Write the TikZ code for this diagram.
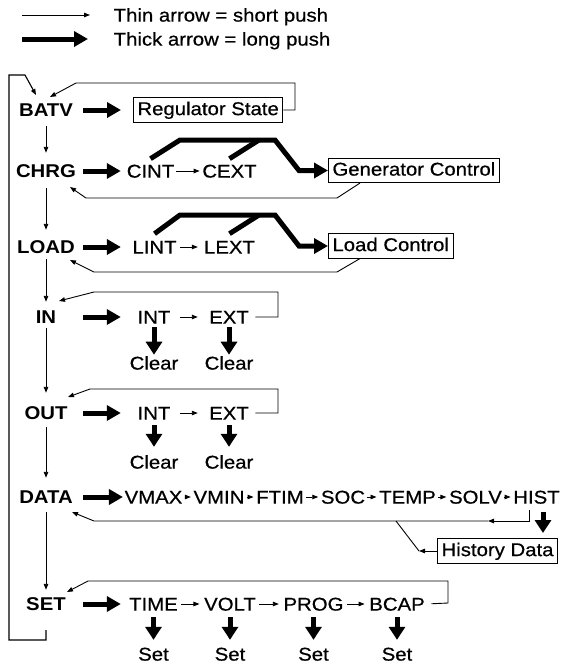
\documentclass[tikz,border=0pt]{standalone}
\usepackage{fontspec}
\setmainfont[FakeStretch=1.1, UprightFeatures={FakeBold=0.6}]{Liberation Sans}
\usetikzlibrary{arrows.meta}
\begin{document}
\begin{tikzpicture}[x=1pt,y=-1pt,
  txt/.style={font=\fontsize{18.5}{22}\selectfont, inner sep=1.5pt, text height=13.2pt, text depth=0pt},
  bold/.style={font=\fontsize{18.5}{22}\selectfont\bfseries, inner sep=1.5pt, text height=13.2pt, text depth=0pt},
  box/.style={draw, line width=0.9pt, font=\fontsize{18.5}{22}\selectfont, inner xsep=4pt, inner ysep=4pt, text height=13.2pt, text depth=3pt},
  ln/.style={line width=0.9pt},
  tarr/.style={line width=0.9pt, -{Triangle[length=6pt,width=4.5pt]}},
  karr/.style={line width=5pt, -{Triangle[length=14pt,width=15pt]}},
  kdown/.style={line width=5pt, -{Triangle[length=13pt,width=16pt]}},
  kline/.style={line width=5pt},
]
\useasboundingbox (0,0) rectangle (562,664);

% legend
\coordinate (lg1) at (22,15);
\coordinate (lg2) at (22,39);
\node[txt, anchor=west] (lgt) at (112,15) {Thin arrow = short push};
\node[txt, anchor=west] (lgk) at (112,39) {Thick arrow = long push};
\draw[tarr, shorten >=22pt] (lg1) -- (lgt.west);
\draw[karr, shorten >=24pt] (lg2) -- (lgk.west);

% main menu column
\node[bold] (batv) at (46,110) {BATV};
\node[bold] (chrg) at (46,171) {CHRG};
\node[bold] (load) at (46,247) {LOAD};
\node[bold] (in)   at (46,317) {IN};
\node[bold] (out)  at (46,413) {OUT};
\node[bold] (data) at (46,497) {DATA};
\node[bold] (set)  at (46,604) {SET};

\draw[tarr, shorten <=7.9pt, shorten >=9.9pt] (batv) -- (chrg);
\draw[tarr, shorten <=8.9pt, shorten >=8.9pt] (chrg) -- (load);
\draw[tarr, shorten <=3.9pt, shorten >=6.9pt] (load) -- (in);
\draw[tarr, shorten <=2.9pt, shorten >=11.9pt] (in) -- (out);
\draw[tarr, shorten <=5.9pt, shorten >=10.9pt] (out) -- (data);
\draw[tarr, shorten <=6.9pt, shorten >=5.9pt] (data) -- (set);

% outer frame
\coordinate (f1) at (46,640);
\coordinate (f2) at (9,640);
\coordinate (f3) at (9,75);
\coordinate (f4) at (25,75);
\draw[tarr, line width=1.1pt, shorten <=17.9pt] (set.south) -- (f1) -- (f2) -- (f3) -- (f4) -- ([shift={(-10,-15)}]batv.center);

% BATV row
\node[box, anchor=west] (reg) at (133,110) {Regulator State};
\draw[karr, shorten >=12pt] ([xshift=37pt]batv.center) -- (reg);
\coordinate (b1) at (295,110);
\coordinate (b2) at (295,83);
\coordinate (b3) at (76,83);
\draw[tarr] (reg.east) -- (b1) -- (b2) -- (b3) -- ([shift={(4,-13)}]batv.center);

% CHRG row
\node[txt] (cint) at (150.5,171) {CINT};
\node[txt] (cext) at (229.5,171) {CEXT};
\node[box, anchor=west] (gen) at (328,170.5) {Generator Control};
\draw[karr, shorten >=4.3pt] ([xshift=37pt]chrg.center) -- (cint);
\draw[tarr, shorten >=1pt] (cint) -- (cext);
\coordinate (cb1) at (180,140);
\coordinate (cb2) at (275,140);
\coordinate (cb3) at (299,170.5);
\coordinate (cb4) at (259,140);
\draw[karr] ([yshift=4pt]cint.north) -- (cb1) -- (cb2) -- (cb3) -- (gen.west);
\draw[kline] ([yshift=4pt]cext.north) -- (cb4);
\coordinate (gr1) at (337,198);
\coordinate (gr2) at (86,198);
\draw[tarr] ([xshift=32pt]gen.south west) -- (gr1) -- (gr2) -- ([shift={(24,16)}]chrg.center);

% LOAD row
\node[txt] (lint) at (154.5,247) {LINT};
\node[txt] (lext) at (229.5,247) {LEXT};
\node[box, anchor=west] (lc) at (328,246) {Load Control};
\draw[karr, shorten >=9.9pt] ([xshift=37pt]load.center) -- (lint);
\draw[tarr, shorten <=2pt, shorten >=4.5pt] (lint) -- (lext);
\coordinate (lb1) at (180,215);
\coordinate (lb2) at (275,215);
\coordinate (lb3) at (299,246);
\coordinate (lb4) at (259,215);
\draw[karr] ([yshift=5pt]lint.north) -- (lb1) -- (lb2) -- (lb3) -- (lc.west);
\draw[kline] ([yshift=5pt]lext.north) -- (lb4);
\coordinate (lr1) at (337,272);
\coordinate (lr2) at (94,272);
\draw[tarr] ([xshift=32pt]lc.south west) -- (lr1) -- (lr2) -- ([shift={(24,13)}]load.center);

% IN row
\node[txt] (int1) at (154,317) {INT};
\node[txt] (ext1) at (229,317) {EXT};
\node[txt] (clr1) at (154,363) {Clear};
\node[txt] (clr2) at (229,363) {Clear};
\draw[karr, shorten >=15.1pt] ([xshift=37pt]in.center) -- (int1);
\draw[tarr, shorten <=8pt, shorten >=9.7pt] (int1) -- (ext1);
\draw[kdown, shorten <=1.9pt] (int1) -- (clr1);
\draw[kdown, shorten <=1.9pt] (ext1) -- (clr2);
\coordinate (ir1) at (278,317);
\coordinate (ir2) at (278,292);
\coordinate (ir3) at (94,292);
\draw[tarr, shorten <=5pt] (ext1.east) -- (ir1) -- (ir2) -- (ir3) -- ([shift={(13,-16)}]in.center);

% OUT row
\node[txt] (int2) at (154,413) {INT};
\node[txt] (ext2) at (229,413) {EXT};
\node[txt] (clr3) at (154,462) {Clear};
\node[txt] (clr4) at (229,462) {Clear};
\draw[karr, shorten >=15.1pt] ([xshift=37pt]out.center) -- (int2);
\draw[tarr, shorten <=8pt, shorten >=9.7pt] (int2) -- (ext2);
\draw[kdown, shorten <=3.9pt, shorten >=6.9pt] (int2) -- (clr3);
\draw[kdown, shorten <=3.9pt, shorten >=6.9pt] (ext2) -- (clr4);
\coordinate (or1) at (278,413);
\coordinate (or2) at (278,389);
\coordinate (or3) at (90,389);
\draw[tarr, shorten <=5pt] (ext2.east) -- (or1) -- (or2) -- (or3) -- ([shift={(22,-16)}]out.center);

% DATA row
\node[txt] (vmax) at (153.5,497) {VMAX};
\node[txt] (vmin) at (219,497) {VMIN};
\node[txt] (ftim) at (280,497) {FTIM};
\node[txt] (soc)  at (343,497) {SOC};
\node[txt] (temp) at (407.5,497) {TEMP};
\node[txt] (solv) at (475.5,497) {SOLV};
\node[txt] (hist) at (536.5,497) {HIST};
\draw[karr] ([xshift=37pt]data.center) -- (vmax);
\draw[tarr, shorten <=0.5pt, shorten >=1pt] (vmax) -- (vmin);
\draw[tarr, shorten <=0.5pt, shorten >=1pt] (vmin) -- (ftim);
\draw[tarr, shorten <=0.5pt, shorten >=1pt] (ftim) -- (soc);
\draw[tarr, shorten <=0.5pt, shorten >=1pt] (soc) -- (temp);
\draw[tarr, shorten <=0.5pt, shorten >=1pt] (temp) -- (solv);
\draw[tarr, shorten <=0.5pt, shorten >=1pt] (solv) -- (hist);
\coordinate (hd) at (543,533);
\draw[kdown, shorten <=6.9pt] ([xshift=6.5pt]hist.south) -- (hd);
\coordinate (dr1) at (529,521);
\coordinate (dr2) at (488,521);
\coordinate (dr3) at (94,521);
\draw[tarr, shorten <=4.9pt] ([xshift=-7.5pt]hist.south) -- (dr1) -- (dr2);
\draw[tarr] (dr2) -- (dr3) -- ([shift={(26,15)}]data.center);
\node[box, anchor=east] (hbox) at (558,551) {History Data};
\coordinate (hb1) at (419,551);
\coordinate (hb2) at (396,521);
\draw[tarr] (hbox.west) -- (hb1);
\draw[ln] (hb1) -- (hb2);

% SET row
\node[txt] (time) at (153.5,604) {TIME};
\node[txt] (volt) at (230,604) {VOLT};
\node[txt] (prog) at (313.5,604) {PROG};
\node[txt] (bcap) at (397,604) {BCAP};
\node[txt, inner sep=1pt] (s1) at (153.5,654) {Set};
\node[txt, inner sep=1pt] (s2) at (230,654) {Set};
\node[txt, inner sep=1pt] (s3) at (313.5,654) {Set};
\node[txt, inner sep=1pt] (s4) at (397,654) {Set};
\draw[karr, shorten >=6.7pt] ([xshift=37pt]set.center) -- (time);
\draw[tarr, shorten <=1.5pt, shorten >=3pt] (time) -- (volt);
\draw[tarr, shorten <=1.5pt, shorten >=3pt] (volt) -- (prog);
\draw[tarr, shorten <=1.5pt, shorten >=3pt] (prog) -- (bcap);
\draw[kdown, shorten <=4.9pt, shorten >=6.4pt] (time) -- (s1);
\draw[kdown, shorten <=4.9pt, shorten >=6.4pt] (volt) -- (s2);
\draw[kdown, shorten <=4.9pt, shorten >=6.4pt] (prog) -- (s3);
\draw[kdown, shorten <=4.9pt, shorten >=6.4pt] (bcap) -- (s4);
\coordinate (sr1) at (448,603);
\coordinate (sr2) at (448,581);
\coordinate (sr3) at (88,581);
\draw[tarr, shorten <=5pt] (bcap.east) -- (sr1) -- (sr2) -- (sr3) -- ([shift={(21,-12)}]set.center);
\end{tikzpicture}
\end{document}
